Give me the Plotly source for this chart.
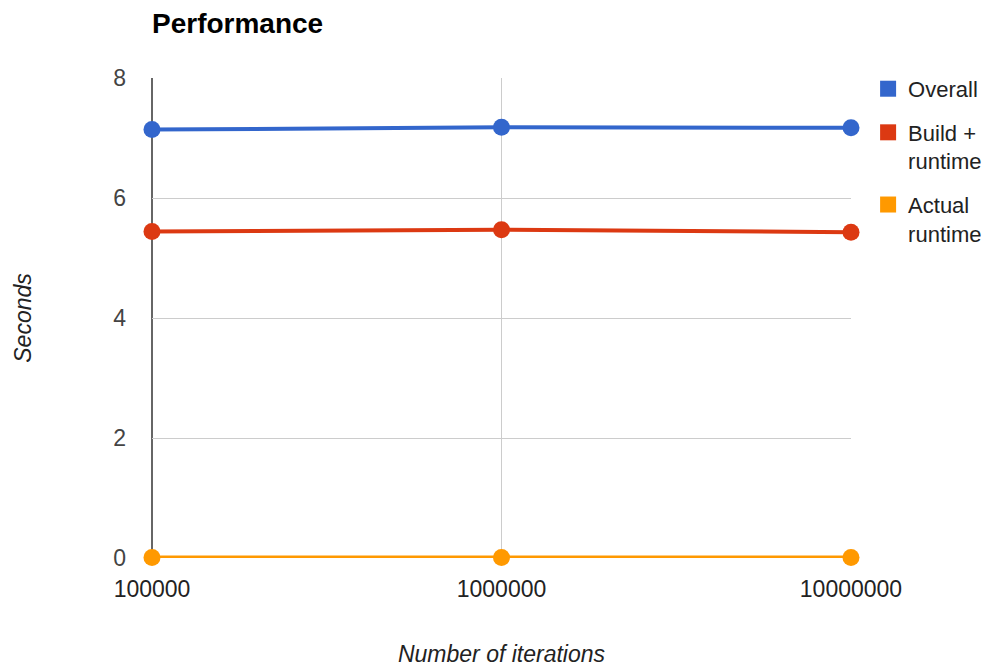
import plotly.graph_objects as go

iterations = ["100000", "1000000", "10000000"]
overall = [7.14, 7.18, 7.17]
build_runtime = [5.44, 5.47, 5.43]
actual_runtime = [0.01, 0.01, 0.01]

series = [
    ("Overall", overall, "#3366CC"),
    ("Build +<br>runtime", build_runtime, "#DC3912"),
    ("Actual<br>runtime", actual_runtime, "#FF9900"),
]

fig = go.Figure()
for name, vals, color in reversed(series):
    fig.add_trace(go.Scatter(
        x=iterations, y=vals, mode="lines+markers", name=name,
        line=dict(color=color, width=4), marker=dict(color=color, size=17),
        cliponaxis=False, showlegend=False,
    ))
for i, (name, vals, color) in enumerate(series):
    fig.add_trace(go.Scatter(
        x=[None], y=[None], mode="markers", name=name, legendgroup=f"g{i}",
        marker=dict(color=color, size=22, symbol="square"),
        showlegend=True,
    ))

font = "Liberation Sans, Arial, sans-serif"
W, H = 990, 659
fig.update_layout(
    width=W, height=H,
    margin=dict(l=144, r=146, t=70, b=109),
    paper_bgcolor="white", plot_bgcolor="white",
    font=dict(family=font, size=22, color="#444444"),
    title=dict(text="<b>Performance</b>", x=144/W, xanchor="left",
               y=1 - 5/H, yanchor="top", pad=dict(t=0, b=0, l=0, r=0),
               font=dict(size=28, color="#000000")),
    legend=dict(x=1.023, xanchor="left", y=1.021, yanchor="top",
                font=dict(size=22, color="#222222"), tracegroupgap=12,
                valign="top", itemsizing="trace", bgcolor="rgba(0,0,0,0)"),
    showlegend=True,
)
fig.update_xaxes(
    type="category", range=[0, 2], showgrid=True, gridcolor="#cccccc",
    gridwidth=1, zeroline=False, showline=False, ticks="", automargin=False,
    tickfont=dict(size=23, color="#222222"), ticklabelstandoff=15,
    title=dict(text="<i>Number of iterations</i>", standoff=44,
               font=dict(size=23, color="#222222")),
)
fig.update_yaxes(
    range=[0, 8], dtick=2, showgrid=True, gridcolor="#cccccc", gridwidth=1,
    zeroline=False, showline=False, ticks="", automargin=False,
    tickfont=dict(size=23, color="#444444"), ticklabelstandoff=25,
    title=dict(text="<i>Seconds</i>", standoff=75,
               font=dict(size=23, color="#222222")),
)
fig.add_shape(type="line", xref="paper", yref="paper", x0=0, x1=0, y0=0, y1=1,
              line=dict(color="#333333", width=1.5), layer="below")
fig.write_html("out.html")
